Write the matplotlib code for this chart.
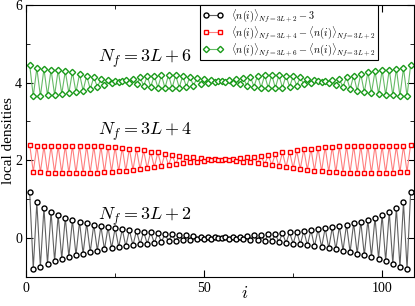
import numpy as np
import matplotlib
matplotlib.use("Agg")
import matplotlib.pyplot as plt

plt.rcParams['font.family'] = ['Liberation Serif', 'DejaVu Serif']
plt.rcParams['mathtext.fontset'] = 'cm'

# site index
sites = np.arange(1, 109)

# <n(i)>_{Nf=3L+2} - 3
black = [1.17, -0.80, 0.91, -0.75, 0.77, -0.67, 0.67, -0.60, 0.59, -0.54,
         0.52, -0.49, 0.46, -0.45, 0.42, -0.41, 0.38, -0.37, 0.34, -0.33,
         0.30, -0.30, 0.27, -0.27, 0.25, -0.24, 0.22, -0.22, 0.20, -0.19,
         0.18, -0.17, 0.16, -0.15, 0.14, -0.13, 0.12, -0.11, 0.10, -0.09,
         0.09, -0.08, 0.07, -0.06, 0.06, -0.05, 0.04, -0.04, 0.03, -0.03,
         0.02, -0.02, 0.01, -0.01,
         -0.01, 0.01, -0.02, 0.02, -0.03, 0.03, -0.04, 0.04, -0.05, 0.06,
         -0.06, 0.07, -0.08, 0.09, -0.09, 0.10, -0.11, 0.12, -0.13, 0.14,
         -0.15, 0.16, -0.17, 0.18, -0.19, 0.20, -0.22, 0.22, -0.24, 0.25,
         -0.27, 0.27, -0.30, 0.30, -0.33, 0.34, -0.37, 0.38, -0.41, 0.42,
         -0.45, 0.46, -0.49, 0.52, -0.54, 0.59, -0.60, 0.67, -0.67, 0.77,
         -0.75, 0.91, -0.80, 1.17]

# <n(i)>_{Nf=3L+4} - <n(i)>_{Nf=3L+2}
red = [2.40, 1.70, 2.36, 1.69, 2.36, 1.68, 2.36, 1.68, 2.36, 1.67,
       2.37, 1.67, 2.37, 1.67, 2.37, 1.67, 2.37, 1.68, 2.36, 1.68,
       2.36, 1.69, 2.35, 1.70, 2.34, 1.71, 2.32, 1.73, 2.30, 1.75,
       2.28, 1.77, 2.25, 1.79, 2.22, 1.82, 2.20, 1.84, 2.17, 1.87,
       2.14, 1.89, 2.12, 1.92, 2.09, 1.94, 2.07, 1.96, 2.05, 1.98,
       2.03, 2.00, 2.02, 2.01,
       2.01, 2.02, 2.00, 2.03, 1.98, 2.05, 1.96, 2.07, 1.94, 2.09,
       1.92, 2.12, 1.89, 2.14, 1.87, 2.17, 1.84, 2.20, 1.82, 2.22,
       1.79, 2.25, 1.77, 2.28, 1.75, 2.30, 1.73, 2.32, 1.71, 2.34,
       1.70, 2.35, 1.69, 2.36, 1.68, 2.36, 1.68, 2.37, 1.67, 2.37,
       1.67, 2.37, 1.67, 2.37, 1.67, 2.36, 1.68, 2.36, 1.68, 2.36,
       1.69, 2.36, 1.70, 2.40]

# <n(i)>_{Nf=3L+6} - <n(i)>_{Nf=3L+2}
green = [4.45, 3.65, 4.37, 3.65, 4.35, 3.67, 4.33, 3.68, 4.32, 3.71,
         4.29, 3.73, 4.27, 3.75, 4.22, 3.79, 4.18, 3.83, 4.14, 3.89,
         4.08, 3.93, 4.06, 3.99, 4.04, 4.02, 4.03, 4.06, 3.99, 4.10,
         3.95, 4.13, 3.92, 4.16, 3.89, 4.18, 3.87, 4.19, 3.86, 4.20,
         3.86, 4.19, 3.87, 4.18, 3.89, 4.15, 3.92, 4.12, 3.96, 4.09,
         3.99, 4.06, 4.02, 4.04,
         4.04, 4.02, 4.06, 3.99, 4.09, 3.96, 4.12, 3.92, 4.15, 3.89,
         4.18, 3.87, 4.19, 3.86, 4.20, 3.86, 4.19, 3.87, 4.18, 3.89,
         4.16, 3.92, 4.13, 3.95, 4.10, 3.99, 4.06, 4.03, 4.02, 4.04,
         3.99, 4.06, 3.93, 4.08, 3.89, 4.14, 3.83, 4.18, 3.79, 4.22,
         3.75, 4.27, 3.73, 4.29, 3.71, 4.32, 3.68, 4.33, 3.67, 4.35,
         3.65, 4.37, 3.65, 4.45]

labels = [r'$\langle n(i)\rangle_{Nf=3L+2}-3$',
          r'$\langle n(i)\rangle_{Nf=3L+4}-\langle n(i)\rangle_{Nf=3L+2}$',
          r'$\langle n(i)\rangle_{Nf=3L+6}-\langle n(i)\rangle_{Nf=3L+2}$']

fig = plt.figure(figsize=(4.15, 3.06), dpi=100)
ax = fig.add_axes([0.063, 0.096, 0.935, 0.888])

ax.plot(sites, black, color='#606060', lw=0.8, marker='o', ms=3.6,
        mfc='white', mec='black', mew=1.0, label=labels[0])
ax.plot(sites, red, color='#ff8080', lw=0.8, marker='s', ms=3.4,
        mfc='white', mec='red', mew=1.0, label=labels[1])
ax.plot(sites, green, color='#66bb66', lw=0.8, marker='D', ms=3.2,
        mfc='white', mec='#1a9a1a', mew=1.0, label=labels[2])

ax.text(33.5, 4.60, r'$N_f=3L+6$', fontsize=13, ha='center', va='center')
ax.text(33.5, 2.72, r'$N_f=3L+4$', fontsize=13, ha='center', va='center')
ax.text(33.5, 0.55, r'$N_f=3L+2$', fontsize=13, ha='center', va='center')

ax.set_xlim(0, 109)
ax.set_ylim(-1, 6)
ax.set_xticks([0, 50, 100])
ax.set_xticks([25, 75], minor=True)
ax.set_yticks([0, 2, 4, 6])
ax.set_yticks([1, 3, 5], minor=True)
ax.tick_params(direction='in', which='both', top=True, right=True,
               labelsize=10)
ax.tick_params(which='major', length=5)
ax.tick_params(which='minor', length=3)
ax.tick_params(axis='y', pad=3)
ax.tick_params(axis='x', pad=4)
ax.set_xlabel(r'$i$', fontsize=13, va='top')
ax.xaxis.set_label_coords(0.564, -0.03)
ax.set_ylabel('local densities', fontsize=11)
ax.yaxis.set_label_coords(-0.03, 0.5)

leg = ax.legend(loc='upper left', bbox_to_anchor=(0.448, 1.0), fontsize=7.4,
                fancybox=False, edgecolor='black', framealpha=1,
                numpoints=2, handlelength=2.0, borderpad=0.25,
                labelspacing=0.0, borderaxespad=0.0)
leg.get_frame().set_linewidth(0.8)

fig.savefig('out.png', dpi=100)
